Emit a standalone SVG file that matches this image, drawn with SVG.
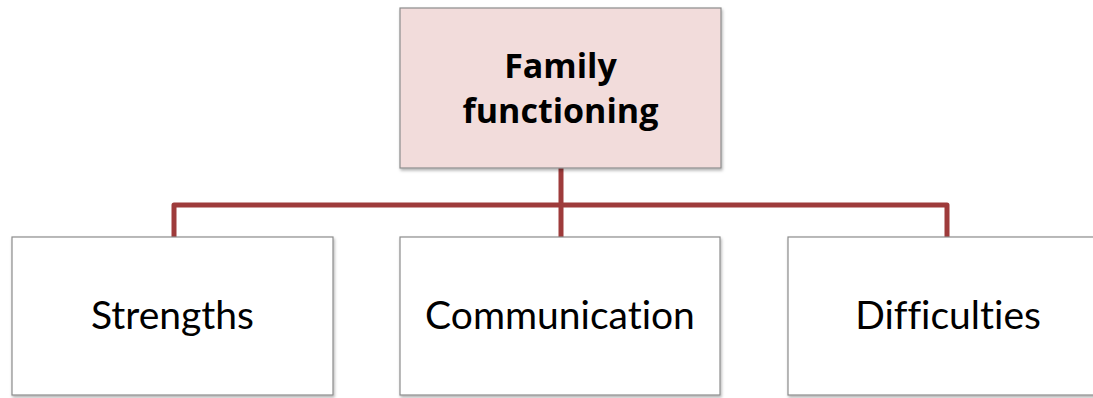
<svg xmlns="http://www.w3.org/2000/svg" width="1093" height="398" viewBox="0 0 1093 398">
<style>
.box{stroke:#8c8c8c;stroke-width:1.2;filter:url(#sh)}
.lbl{font-family:Lato,"Open Sans","Liberation Sans",sans-serif;font-size:39px;fill:#000;text-anchor:middle;font-variant-ligatures:none;font-feature-settings:"liga" 0}
.ttl{font-family:"Open Sans",Lato,"Liberation Sans",sans-serif;font-size:34px;font-weight:bold;fill:#000;text-anchor:middle}
.con{fill:none;stroke:#9e3b3b;stroke-width:5;stroke-linejoin:round}
</style>
<defs>
<filter id="sh" x="-5%" y="-5%" width="110%" height="115%">
<feDropShadow dx="1" dy="2" stdDeviation="1.5" flood-color="#000" flood-opacity="0.3"/>
</filter>
</defs>
<rect width="1093" height="398" fill="#fff"/>
<g id="connectors">
<path class="con" d="M561,168 V205"/>
<path class="con" d="M174,237 V205 H947 V237"/>
<path class="con" d="M561,205 V237"/>
</g>
<g id="family">
<rect class="box" x="400" y="8" width="321" height="160" fill="#f2dcdb"/>
<text class="ttl" x="560.5" y="78">Family</text>
<text class="ttl" x="560.5" y="123">functioning</text>
</g>
<g id="strengths">
<rect class="box" x="12" y="237" width="321" height="158" fill="#fff"/>
<text class="lbl" x="172.5" y="329">Strengths</text>
</g>
<g id="communication">
<rect class="box" x="400" y="237" width="320" height="158" fill="#fff"/>
<text class="lbl" x="560" y="329">Communication</text>
</g>
<g id="difficulties">
<rect class="box" x="788" y="237" width="321" height="158" fill="#fff"/>
<text class="lbl" x="948" y="329">Difficulties</text>
</g>
</svg>
